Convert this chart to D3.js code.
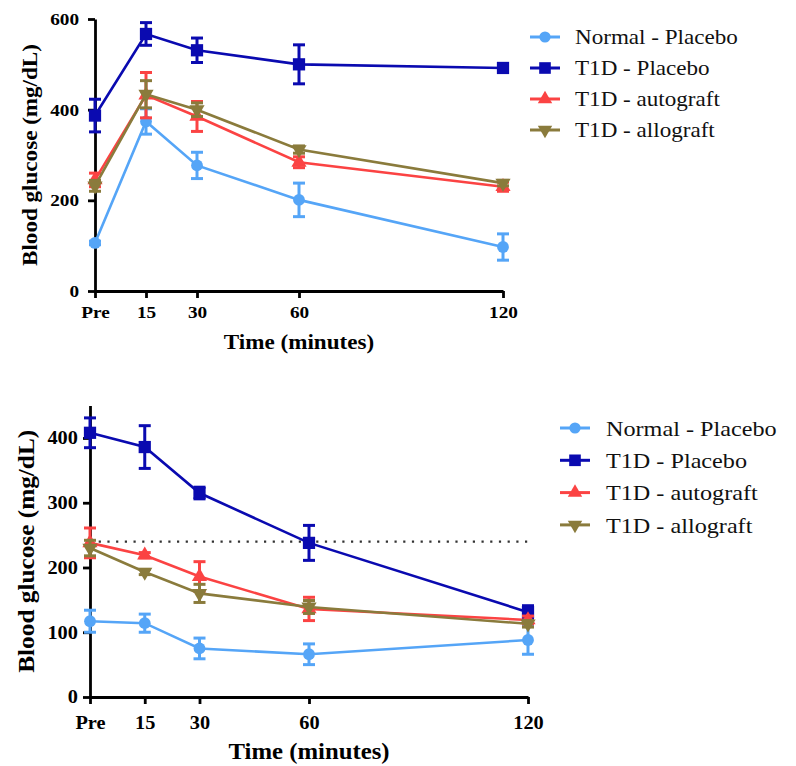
<html>
<script src="https://d3js.org/d3.v7.min.js"></script>
<style>
  svg text { font-family: "Liberation Serif", "Times New Roman", serif; }
</style>
<body style="margin:0;background:#fff">
<svg width="796" height="766"></svg>
<script>
// time points (minutes), "Pre" = 0
const times = [0, 15, 30, 60, 120];
const timeLabels = ["Pre", "15", "30", "60", "120"];
const groups = ["Normal - Placebo", "T1D - Placebo", "T1D - autograft", "T1D - allograft"];
const colors = ["#55a5f7", "#0a0ab0", "#fb4343", "#8a7b3c"];

// panel A values (mean, error)
const topMeans = [
  [106, 374, 277, 201, 97],
  [387, 567, 531, 500, 492],
  [245, 432, 385, 284, 230],
  [232, 434, 400, 312, 238]
];
const topErr = [
  [4, 28, 29, 37, 29],
  [36, 25, 27, 43, 8],
  [15, 50, 33, 12, 10],
  [12, 30, 15, 8, 6]
];
// panel B values (mean, error)
const botMeans = [
  [117, 114, 75, 66, 88],
  [408, 386, 315, 238, 131],
  [238, 219, 186, 136, 119],
  [230, 193, 160, 139, 113]
];
const botErr = [
  [17, 14, 16, 16, 22],
  [23, 33, 9, 27, 10],
  [23, 4, 23, 18, 6],
  [12, 4, 14, 10, 5]
];
const threshold = 240;

const symbols = [d3.symbolCircle, d3.symbolSquare, d3.symbolTriangle, d3.symbolTriangle];
const symSize = [110, 150, 100, 100];
const symRot = [0, 0, 0, 180];

const svg = d3.select("svg");
const sx = 1.1; // the figure's text is a little wide

function panel(o) {
  const x = d3.scaleLinear().domain([0, 120]).range(o.xr);
  const y = d3.scaleLinear().domain(o.yd).range(o.yr);
  const g = svg.append("g");

  // axes
  const ya = g.append("g").attr("transform", `translate(${o.xr[0]},0)`)
    .call(d3.axisLeft(y).tickValues(o.yticks).tickSize(7).tickSizeOuter(0).tickPadding(o.ypad));
  const xa = g.append("g").attr("transform", `translate(0,${o.yr[0]})`)
    .call(d3.axisBottom(x).tickValues(times).tickFormat((d, i) => timeLabels[i]).tickSize(7).tickSizeOuter(0).tickPadding(o.xpad));
  [ya, xa].forEach(a => {
    a.attr("font-family", null);
    a.select(".domain").attr("stroke", "#000").attr("stroke-width", 2.8);
    a.selectAll(".tick line").attr("stroke", "#000").attr("stroke-width", 2.8);
    a.selectAll("text").attr("font-weight", "bold")
      .attr("font-size", o.tfs).attr("fill", "#000").attr("transform", `scale(${sx},1)`);
  });

  g.append("text").attr("transform", `translate(${(o.xr[0] + o.xr[1]) / 2},${o.titleY}) scale(${sx},1)`)
    .attr("text-anchor", "middle").attr("font-weight", "bold")
    .attr("font-size", o.afs).text("Time (minutes)");
  g.append("text").attr("transform", `translate(${o.ylx},${(o.yr[0] + o.yr[1]) / 2}) rotate(-90) scale(${sx},1)`)
    .attr("text-anchor", "middle").attr("font-weight", "bold")
    .attr("font-size", o.yfs).text("Blood glucose (mg/dL)");

  if (o.threshold != null) {
    g.append("line").attr("x1", o.xr[0]).attr("x2", x(120))
      .attr("y1", y(o.threshold)).attr("y2", y(o.threshold))
      .attr("stroke", "#333").attr("stroke-width", 2.2).attr("stroke-dasharray", "2.2,6.5");
  }

  const line = d3.line().x((d, i) => x(times[i])).y(d => y(d));
  o.means.forEach((m, s) => {
    const sg = g.append("g");
    const c = colors[s];
    m.forEach((v, i) => {
      const e = o.err[s][i];
      const cx = x(times[i]);
      sg.append("line").attr("x1", cx).attr("x2", cx).attr("y1", y(v - e)).attr("y2", y(v + e))
        .attr("stroke", c).attr("stroke-width", 3);
      [v - e, v + e].forEach(b => sg.append("line").attr("x1", cx - 6).attr("x2", cx + 6)
        .attr("y1", y(b)).attr("y2", y(b)).attr("stroke", c).attr("stroke-width", 3));
    });
    sg.append("path").datum(m).attr("d", line).attr("fill", "none")
      .attr("stroke", c).attr("stroke-width", 2.6);
    sg.selectAll("path.pt").data(m).join("path").attr("class", "pt")
      .attr("transform", (d, i) => `translate(${x(times[i])},${y(d)}) rotate(${symRot[s]})`)
      .attr("d", d3.symbol().type(symbols[s]).size(symSize[s])).attr("fill", c);
  });

  // legend
  const lg = g.append("g");
  groups.forEach((name, s) => {
    const ly = o.leg.y + s * o.leg.dy;
    lg.append("line").attr("x1", o.leg.x).attr("x2", o.leg.x + 30).attr("y1", ly).attr("y2", ly)
      .attr("stroke", colors[s]).attr("stroke-width", 3);
    lg.append("path").attr("transform", `translate(${o.leg.x + 15},${ly}) rotate(${symRot[s]})`)
      .attr("d", d3.symbol().type(symbols[s]).size(symSize[s] * 0.9)).attr("fill", colors[s]);
    lg.append("text").attr("transform", `translate(${o.leg.tx},${ly}) scale(${sx},1)`).attr("dy", "0.35em")
      .attr("font-size", o.leg.fs).attr("fill", "#111").text(name);
  });
}

panel({
  xr: [95, 503], yr: [291, 19], yd: [0, 600], yticks: [0, 200, 400, 600],
  means: topMeans, err: topErr, ylx: 37, titleY: 349,
  tfs: 17.5, afs: 21, yfs: 21, ypad: 7.5, xpad: 8,
  leg: { x: 530, tx: 575, y: 37, dy: 31, fs: 21 }
});
panel({
  xr: [90, 528], yr: [697, 405.6], yd: [0, 450], yticks: [0, 100, 200, 300, 400],
  means: botMeans, err: botErr, ylx: 34, titleY: 759, threshold: threshold,
  tfs: 18.5, afs: 22.5, yfs: 23, ypad: 4, xpad: 12,
  leg: { x: 560, tx: 606, y: 428, dy: 32.3, fs: 22 }
});
</script>
</body>
</html>
